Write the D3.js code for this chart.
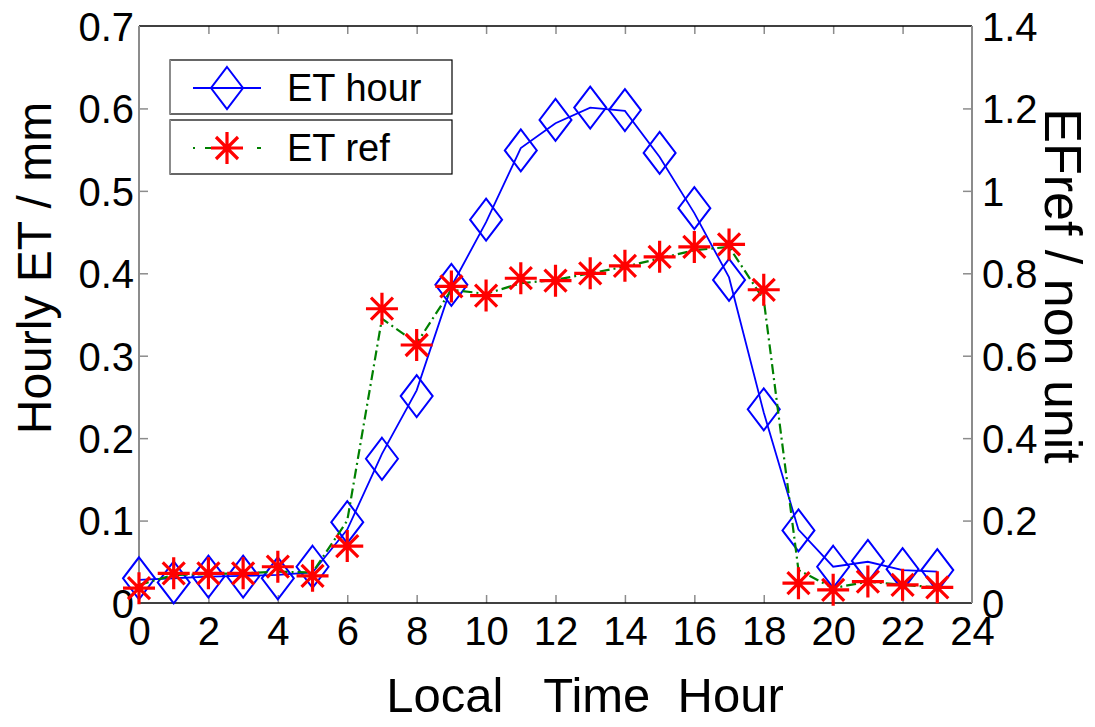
<!DOCTYPE html>
<html>
<head>
<meta charset="utf-8">
<script src="https://cdn.jsdelivr.net/npm/d3@7"></script>
<style>
  html, body { margin: 0; padding: 0; background: #fff; }
  text { font-family: "Liberation Sans", Arial, Helvetica, sans-serif; }
</style>
</head>
<body>
<svg id="chart" width="1095" height="727"></svg>
<script>
// ---- data ----
const hours = [0,1,2,3,4,5,6,7,8,9,10,11,12,13,14,15,16,17,18,19,20,21,22,23];
const etHourMarkers = [0.030,0.025,0.032,0.032,0.030,0.044,0.098,0.175,0.251,0.386,0.465,0.549,0.586,0.601,0.598,0.546,0.479,0.392,0.235,0.088,0.044,0.051,0.041,0.040];
const etHourLine    = [0.028,0.030,0.032,0.033,0.034,0.037,0.089,0.181,0.258,0.384,0.462,0.552,0.582,0.601,0.597,0.541,0.473,0.395,0.231,0.089,0.044,0.050,0.040,0.038];
const etRefMarkers  = [0.018,0.036,0.036,0.036,0.044,0.033,0.069,0.357,0.313,0.384,0.373,0.394,0.391,0.400,0.409,0.420,0.432,0.435,0.380,0.024,0.016,0.026,0.022,0.019];
const etRefLine     = [0.022,0.034,0.035,0.036,0.038,0.037,0.100,0.345,0.315,0.380,0.375,0.388,0.392,0.400,0.408,0.418,0.428,0.432,0.368,0.040,0.018,0.026,0.022,0.019];
const xTicks = [0,2,4,6,8,10,12,14,16,18,20,22,24];
const leftTicks = [0,0.1,0.2,0.3,0.4,0.5,0.6,0.7];
const leftTickLabels = ["0","0.1","0.2","0.3","0.4","0.5","0.6","0.7"];
const rightTicks = [0,0.2,0.4,0.6,0.8,1,1.2,1.4];
const rightTickLabels = ["0","0.2","0.4","0.6","0.8","1","1.2","1.4"];
const seriesNames = ["ET hour","ET ref"];

// ---- layout ----
const L = 139, R = 972, T = 26, B = 603;
const svg = d3.select("#chart");
const x = d3.scaleLinear().domain([0,24]).range([L,R]);
const yL = d3.scaleLinear().domain([0,0.7]).range([B,T]);
const yR = d3.scaleLinear().domain([0,1.4]).range([B,T]);

const tickFont = 40;
const gray = "#8c8c8c";

// axes
const gBottom = svg.append("g").attr("transform",`translate(0,${B})`)
  .call(d3.axisBottom(x).tickValues(xTicks).tickFormat(d3.format("d")).tickSizeInner(-8).tickSizeOuter(0).tickPadding(14));
const gTop = svg.append("g").attr("transform",`translate(0,${T})`)
  .call(d3.axisTop(x).tickValues(xTicks).tickFormat("").tickSizeInner(-8).tickSizeOuter(0));
const gLeft = svg.append("g").attr("transform",`translate(${L},0)`)
  .call(d3.axisLeft(yL).tickValues(leftTicks).tickFormat((d,i)=>leftTickLabels[i]).tickSizeInner(-9).tickSizeOuter(0).tickPadding(5));
const gRight = svg.append("g").attr("transform",`translate(${R},0)`)
  .call(d3.axisRight(yR).tickValues(rightTicks).tickFormat((d,i)=>rightTickLabels[i]).tickSizeInner(-9).tickSizeOuter(0).tickPadding(10));

[gBottom,gTop,gLeft,gRight].forEach(g=>{
  g.select(".domain").remove();
  g.selectAll(".tick line").attr("stroke",gray).attr("stroke-width",1.5);
  g.selectAll(".tick text").attr("font-size",tickFont).attr("fill","#000")
    .attr("font-family","Liberation Sans, Arial, sans-serif");
});
gLeft.selectAll(".tick text").attr("dy","0.36em");
gRight.selectAll(".tick text").attr("dy","0.36em");
gBottom.selectAll(".tick line").filter(d=>d===0||d===24).remove();
gTop.selectAll(".tick line").filter(d=>d===0||d===24).remove();
gLeft.selectAll(".tick line").filter(d=>d===0||d===0.7).remove();
gRight.selectAll(".tick line").filter(d=>d===0||d===1.4).remove();

// frame
svg.append("line").attr("x1",L).attr("x2",R).attr("y1",T).attr("y2",T).attr("stroke","#000").attr("stroke-width",1.5);
svg.append("line").attr("x1",L).attr("x2",R).attr("y1",B).attr("y2",B).attr("stroke","#000").attr("stroke-width",1.5);
svg.append("line").attr("x1",L).attr("x2",L).attr("y1",T).attr("y2",B).attr("stroke",gray).attr("stroke-width",2);
svg.append("line").attr("x1",R).attr("x2",R).attr("y1",T).attr("y2",B).attr("stroke",gray).attr("stroke-width",2);

// shapes
const diamondPath = "M0,-21L16,0L0,21L-16,0Z";
const starPath = "M-16,0L16,0M0,-16L0,16M-11,-11L11,11M-11,11L11,-11";

const lineGen = (ys, scale) => d3.line().x((d,i)=>x(hours[i])).y(d=>scale(d))(ys);
svg.append("path").attr("d",lineGen(etHourLine,yL)).attr("fill","none").attr("stroke","#0000ff").attr("stroke-width",1.8);
svg.append("g").selectAll("path").data(etHourMarkers).join("path")
  .attr("d",diamondPath).attr("transform",(d,i)=>`translate(${x(hours[i])},${yL(d)})`)
  .attr("fill","none").attr("stroke","#0000ff").attr("stroke-width",2);

svg.append("path").attr("d",lineGen(etRefLine,yL)).attr("fill","none").attr("stroke","#008000").attr("stroke-width",2.2)
  .attr("stroke-dasharray","10,4,2,4");
svg.append("g").selectAll("path").data(etRefMarkers).join("path")
  .attr("d",starPath).attr("transform",(d,i)=>`translate(${x(hours[i])},${yL(d)})`)
  .attr("fill","none").attr("stroke","#ff0000").attr("stroke-width",3.2);

// legends (two boxes)
function legendBox(y0, name, kind){
  const g = svg.append("g");
  g.append("rect").attr("x",170).attr("y",y0).attr("width",282).attr("height",54)
    .attr("fill","#fff").attr("stroke","#000").attr("stroke-width",1.2);
  g.append("line").attr("x1",170).attr("x2",170).attr("y1",y0).attr("y2",y0+54).attr("stroke",gray).attr("stroke-width",2);
  const cy = y0+28;
  if(kind==="hour"){
    g.append("line").attr("x1",193).attr("x2",261).attr("y1",cy).attr("y2",cy).attr("stroke","#0000ff").attr("stroke-width",1.8);
    g.append("path").attr("d",diamondPath).attr("transform",`translate(227,${cy})`).attr("fill","none").attr("stroke","#0000ff").attr("stroke-width",2);
  } else {
    g.append("line").attr("x1",193).attr("x2",261).attr("y1",cy).attr("y2",cy).attr("stroke","#008000").attr("stroke-width",2.2).attr("stroke-dasharray","2,10,14,10,2");
    g.append("path").attr("d",starPath).attr("transform",`translate(227,${cy})`).attr("fill","none").attr("stroke","#ff0000").attr("stroke-width",3.2);
  }
  g.append("text").attr("x",287).attr("y",cy+13).attr("font-size",38).attr("fill","#000").text(name);
}
legendBox(60, seriesNames[0], "hour");
legendBox(120, seriesNames[1], "ref");

// axis titles
svg.append("text").attr("x",585).attr("y",712).attr("text-anchor","middle").attr("font-size",49)
  .style("white-space","pre").attr("xml:space","preserve").text("Local   Time  Hour");
svg.append("text").attr("transform","translate(51,268) rotate(-90)").attr("text-anchor","middle").attr("font-size",48)
  .text("Hourly ET / mm");
svg.append("text").attr("transform","translate(1045,286) rotate(90)").attr("text-anchor","middle").attr("font-size",52)
  .text("EFref / non unit");
</script>
</body>
</html>
